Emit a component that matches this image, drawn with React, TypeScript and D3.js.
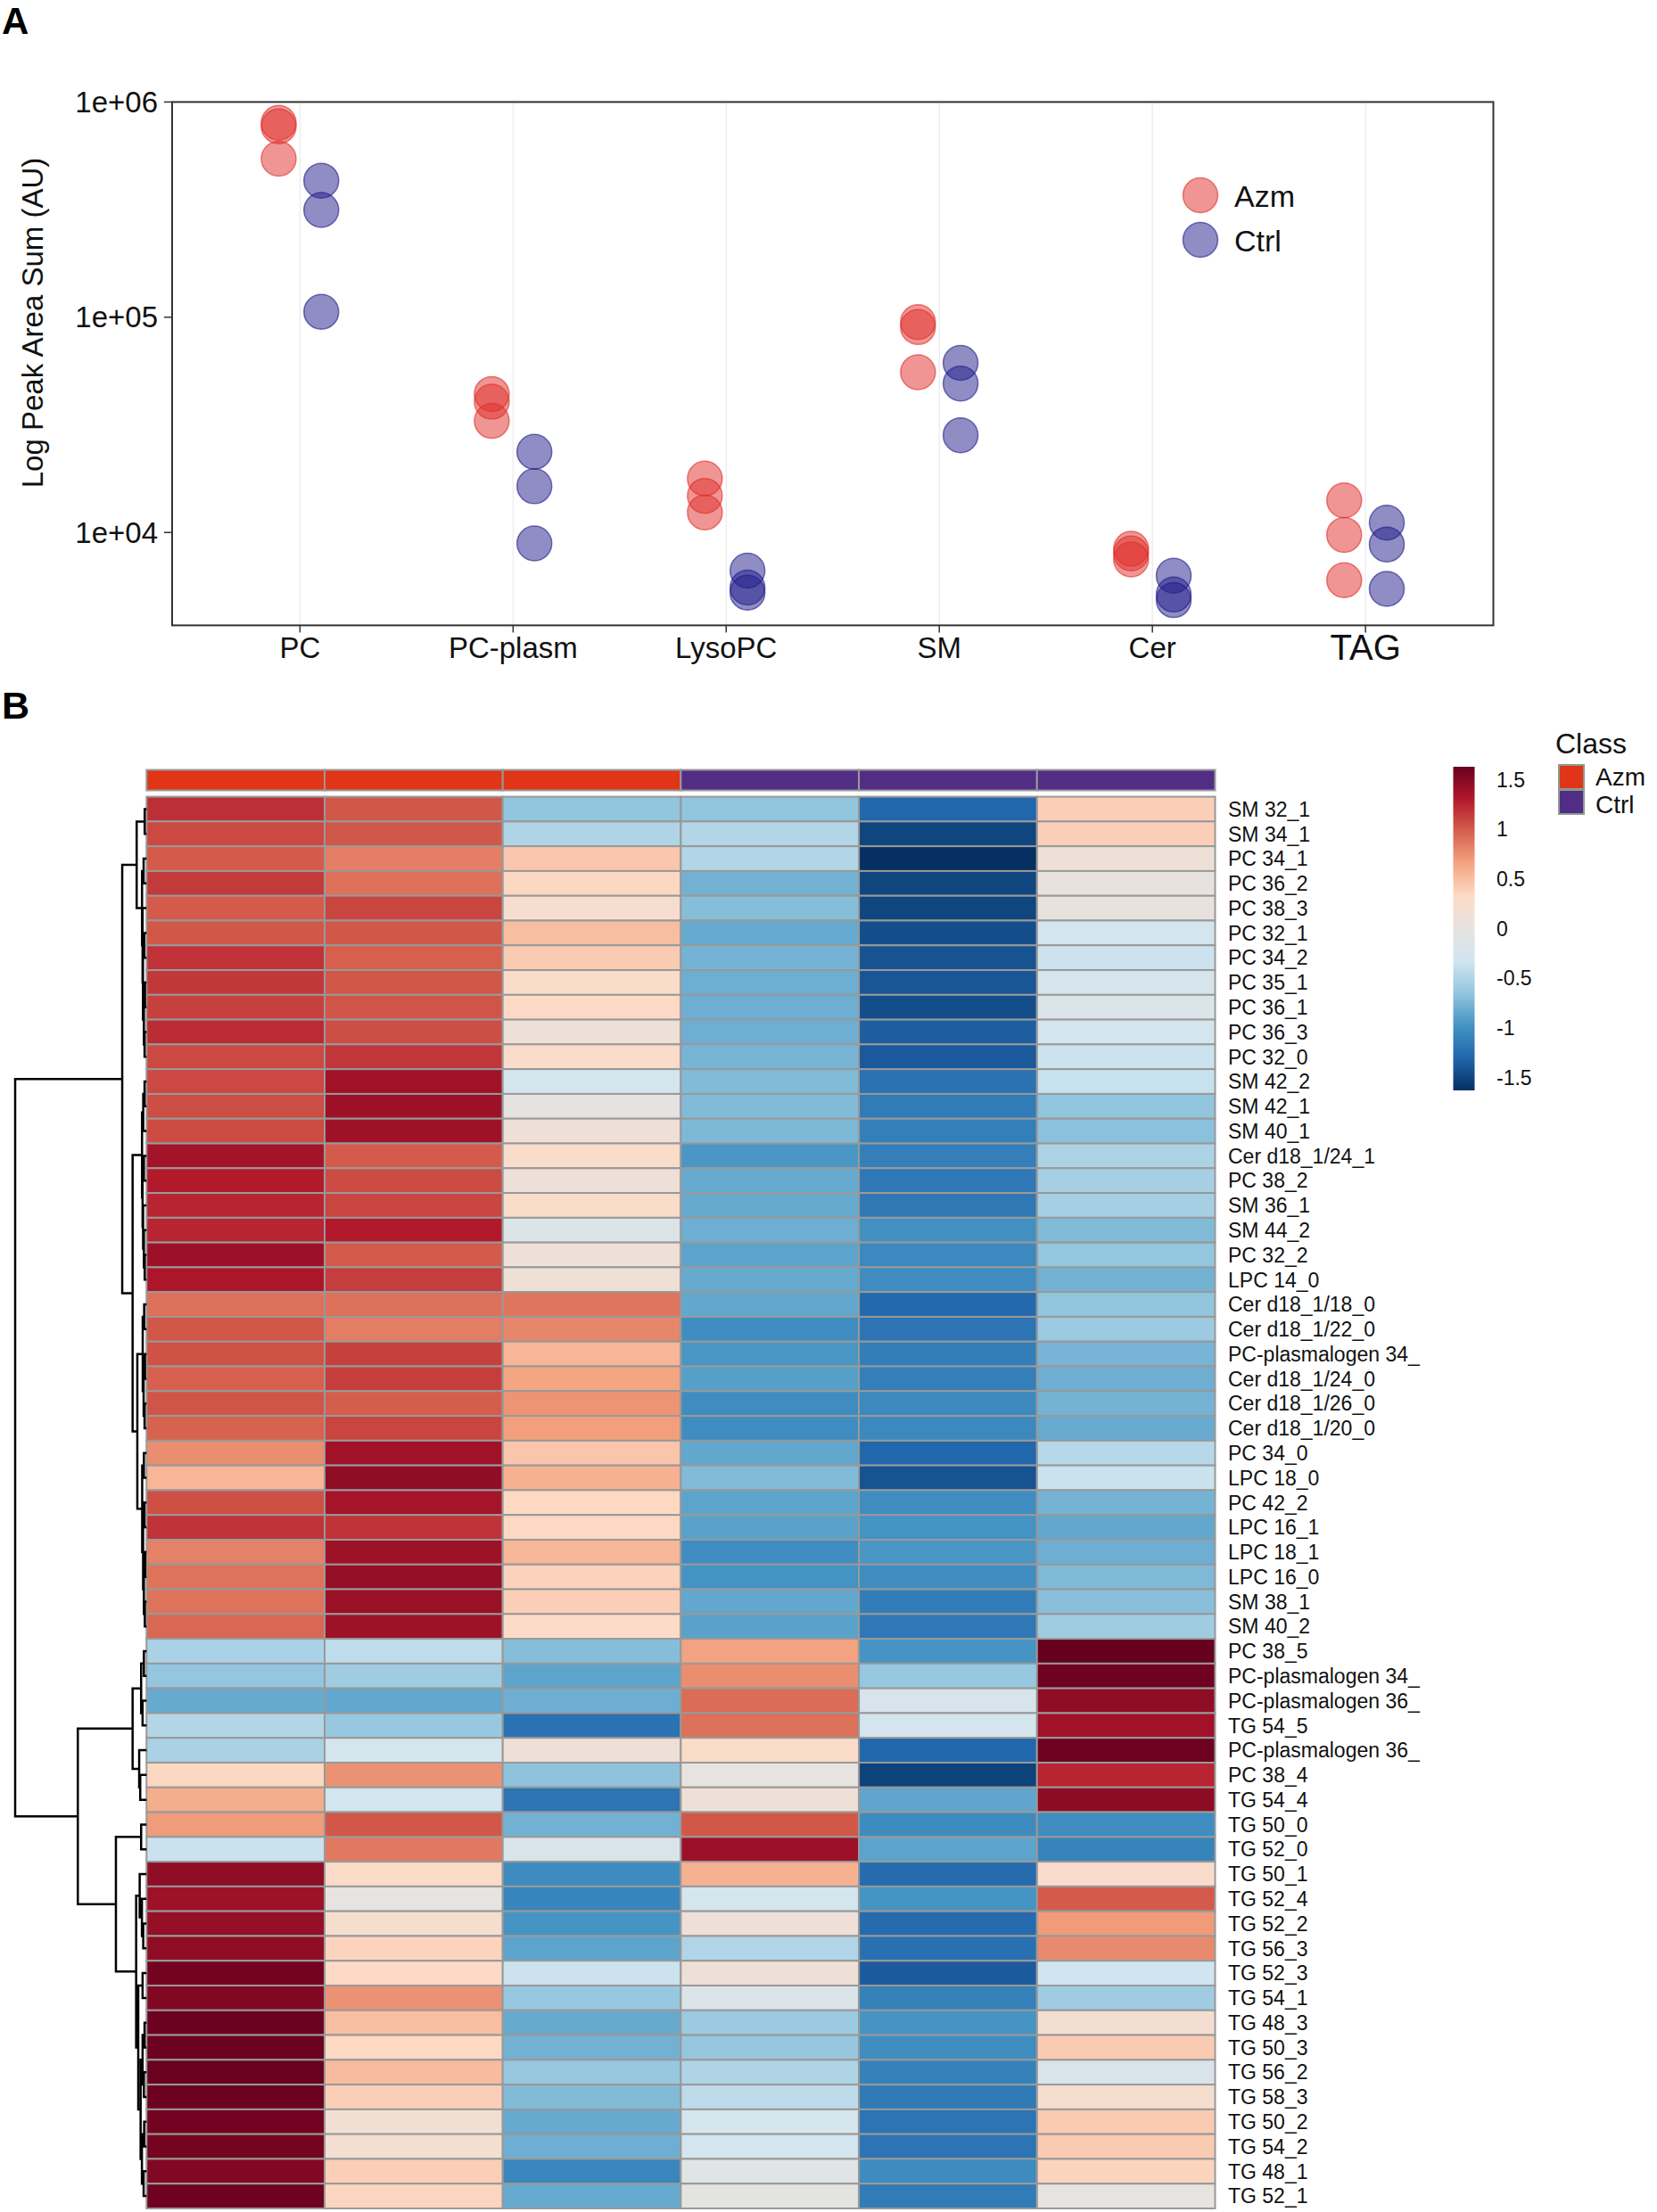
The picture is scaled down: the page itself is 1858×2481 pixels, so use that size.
import React from 'react';
import * as d3 from 'd3';

const FONT = "'Liberation Sans', Arial, Helvetica, sans-serif";

// ---------- panel A : summed peak areas per lipid class ----------
const lipidClasses = ['PC', 'PC-plasm', 'LysoPC', 'SM', 'Cer', 'TAG'];
const groups = ['Azm', 'Ctrl'];
const groupColors = ['#DF2D29', '#1F1B89'];
const azmPeakSums = [
  [800000, 770000, 545000],
  [44000, 40500, 33000],
  [17800, 14800, 12400],
  [95000, 90000, 55500],
  [8400, 8000, 7500],
  [14100, 9750, 6000],
];
const ctrlPeakSums = [
  [431000, 315000, 106000],
  [23700, 16400, 8900],
  [6650, 5550, 5250],
  [61400, 49200, 28300],
  [6300, 5150, 4850],
  [11100, 8800, 5470],
];
const yTickValues = [1e4, 1e5, 1e6];
const yTickLabels = ['1e+04', '1e+05', '1e+06'];

// ---------- panel B : heatmap of z-scores ----------
const sampleClass = ['Azm', 'Azm', 'Azm', 'Ctrl', 'Ctrl', 'Ctrl'];
const classColors = { Azm: '#E03516', Ctrl: '#522D86' };
const lipidNames = [
  'SM 32_1', 'SM 34_1', 'PC 34_1', 'PC 36_2', 'PC 38_3', 'PC 32_1', 'PC 34_2', 'PC 35_1',
  'PC 36_1', 'PC 36_3', 'PC 32_0', 'SM 42_2', 'SM 42_1', 'SM 40_1', 'Cer d18_1/24_1',
  'PC 38_2', 'SM 36_1', 'SM 44_2', 'PC 32_2', 'LPC 14_0', 'Cer d18_1/18_0', 'Cer d18_1/22_0',
  'PC-plasmalogen 34_', 'Cer d18_1/24_0', 'Cer d18_1/26_0', 'Cer d18_1/20_0', 'PC 34_0',
  'LPC 18_0', 'PC 42_2', 'LPC 16_1', 'LPC 18_1', 'LPC 16_0', 'SM 38_1', 'SM 40_2',
  'PC 38_5', 'PC-plasmalogen 34_', 'PC-plasmalogen 36_', 'TG 54_5', 'PC-plasmalogen 36_',
  'PC 38_4', 'TG 54_4', 'TG 50_0', 'TG 52_0', 'TG 50_1', 'TG 52_4', 'TG 52_2', 'TG 56_3',
  'TG 52_3', 'TG 54_1', 'TG 48_3', 'TG 50_3', 'TG 56_2', 'TG 58_3', 'TG 50_2', 'TG 54_2',
  'TG 48_1', 'TG 52_1',
];
const zScores = [
  [1.2, 1.02, -0.65, -0.65, -1.3, 0.4],
  [1.08, 1.02, -0.5, -0.48, -1.5, 0.4],
  [1.0, 0.83, 0.45, -0.48, -1.63, 0.12],
  [1.15, 0.9, 0.35, -0.78, -1.5, 0.03],
  [1.0, 1.1, 0.22, -0.7, -1.5, 0.03],
  [1.02, 1.02, 0.5, -0.83, -1.45, -0.3],
  [1.18, 0.98, 0.42, -0.77, -1.42, -0.35],
  [1.16, 1.02, 0.28, -0.8, -1.4, -0.25],
  [1.12, 1.03, 0.33, -0.8, -1.45, -0.18],
  [1.22, 1.06, 0.12, -0.8, -1.35, -0.3],
  [1.08, 1.17, 0.28, -0.76, -1.38, -0.35],
  [1.08, 1.38, -0.27, -0.72, -1.22, -0.37],
  [1.06, 1.4, -0.03, -0.72, -1.15, -0.65],
  [1.07, 1.39, 0.12, -0.74, -1.12, -0.68],
  [1.37, 1.0, 0.28, -0.95, -1.12, -0.52],
  [1.3, 1.07, 0.12, -0.83, -1.17, -0.55],
  [1.25, 1.1, 0.28, -0.83, -1.17, -0.55],
  [1.25, 1.3, -0.15, -0.8, -1.0, -0.72],
  [1.4, 1.0, 0.12, -0.87, -1.05, -0.64],
  [1.33, 1.13, 0.12, -0.83, -1.02, -0.78],
  [0.9, 0.9, 0.88, -0.85, -1.28, -0.65],
  [1.02, 0.84, 0.8, -1.02, -1.2, -0.6],
  [1.04, 1.12, 0.55, -0.96, -1.13, -0.76],
  [0.98, 1.13, 0.65, -0.9, -1.12, -0.8],
  [1.03, 0.99, 0.73, -1.02, -1.05, -0.77],
  [0.97, 1.1, 0.68, -1.02, -1.05, -0.82],
  [0.76, 1.38, 0.46, -0.85, -1.3, -0.46],
  [0.55, 1.45, 0.58, -0.72, -1.42, -0.36],
  [1.05, 1.36, 0.34, -0.87, -1.02, -0.77],
  [1.18, 1.18, 0.34, -0.88, -0.98, -0.85],
  [0.82, 1.39, 0.55, -1.02, -0.95, -0.8],
  [0.89, 1.43, 0.38, -0.98, -1.02, -0.73],
  [0.89, 1.41, 0.4, -0.85, -1.14, -0.69],
  [0.94, 1.39, 0.31, -0.88, -1.17, -0.58],
  [-0.53, -0.42, -0.7, 0.66, -0.97, 1.63],
  [-0.64, -0.58, -0.87, 0.76, -0.62, 1.6],
  [-0.83, -0.85, -0.8, 0.92, -0.22, 1.45],
  [-0.48, -0.62, -1.22, 0.9, -0.28, 1.38],
  [-0.53, -0.26, 0.12, 0.3, -1.3, 1.6],
  [0.35, 0.74, -0.67, 0.02, -1.52, 1.25],
  [0.6, -0.3, -1.2, 0.12, -0.86, 1.47],
  [0.7, 1.02, -0.78, 1.02, -1.03, -1.02],
  [-0.36, 0.86, -0.2, 1.4, -0.87, -1.09],
  [1.45, 0.3, -1.03, 0.58, -1.27, 0.27],
  [1.39, 0.0, -1.08, -0.28, -0.97, 1.0],
  [1.43, 0.22, -0.97, 0.12, -1.27, 0.7],
  [1.46, 0.37, -0.87, -0.49, -1.23, 0.78],
  [1.58, 0.33, -0.35, 0.12, -1.37, -0.33],
  [1.52, 0.74, -0.62, -0.18, -1.11, -0.58],
  [1.61, 0.5, -0.83, -0.6, -0.97, 0.2],
  [1.61, 0.34, -0.78, -0.63, -1.02, 0.42],
  [1.62, 0.52, -0.62, -0.5, -1.11, -0.2],
  [1.61, 0.4, -0.72, -0.43, -1.16, 0.22],
  [1.58, 0.16, -0.83, -0.27, -1.2, 0.43],
  [1.57, 0.18, -0.8, -0.3, -1.2, 0.43],
  [1.52, 0.4, -1.07, -0.1, -1.03, 0.37],
  [1.6, 0.36, -0.83, -0.05, -1.15, 0.0],
];
const legendTicks = [1.5, 1, 0.5, 0, -0.5, -1, -1.5];
const zLimit = 1.63;
// reversed RdBu ramp (red high -> blue low), greyish middle as in the figure
const heatPalette = ['#67001f', '#b2182b', '#d6604d', '#f4a582', '#fddbc7', '#e6e3e0',
  '#d1e5f0', '#92c5de', '#4393c3', '#2166ac', '#053061'];

// row dendrogram: [height, left, right], leaves are row indices
type TreeNode = number | [number, TreeNode, TreeNode];
const rowTree: TreeNode = [10,
  [1.85,
    [0.75, [0.14, 0, 1],
      [0.34, [0.22, 2, 3], [0.3, 4, [0.27, [0.18, 5, 6], [0.2, [0.12, 7, 8], [0.15, 9, 10]]]]]],
    [1.06,
      [0.34, [0.25, [0.15, 11, 12], 13], [0.3, [0.2, 14, 15], [0.26, 16, [0.2, 17, [0.14, 18, 19]]]]],
      [0.7,
        [0.29, [0.18, 20, 21], [0.22, [0.12, 22, 23], [0.15, 24, 25]]],
        [0.33, [0.2, 26, 27], [0.26, [0.16, 28, 29], [0.2, [0.1, 30, 31], [0.13, 32, 33]]]]]]],
  [5.23,
    [1.06, [0.41, [0.2, 34, 35], [0.3, 36, 37]], [0.56, 38, [0.48, 39, 40]]],
    [2.33, [0.41, 41, 42],
      [0.79, [0.52, 43, [0.35, 44, [0.25, 45, 46]]],
        [0.63, [0.3, 47, 48],
          [0.45, [0.3, [0.15, 49, 50], [0.2, 51, 52]], [0.35, [0.18, 53, 54], [0.22, 55, 56]]]]]]]];

function PanelA() {
  const left = 193, right = 1674.5, top = 114.4, bottom = 701.4;
  const x = d3.scalePoint<string>().domain(lipidClasses).range([left, right]).padding(0.6);
  const y = d3.scaleLog().domain([3703, 1e6]).range([bottom, top]);
  const dodge = x.step() * 0.1;
  const r = 19.5;
  const series = [azmPeakSums, ctrlPeakSums];

  return (
    <g fontFamily={FONT}>
      <text x={2} y={38} fontSize={42} fontWeight="bold">A</text>
      {lipidClasses.map(c => (
        <line key={c} x1={x(c)} x2={x(c)} y1={top} y2={bottom} stroke="#EBEBEB" strokeWidth={1.2} />
      ))}
      <rect x={left} y={top} width={right - left} height={bottom - top} fill="none" stroke="#333" strokeWidth={2} />
      {yTickValues.map((v, i) => (
        <g key={v}>
          <line x1={left - 9} x2={left} y1={y(v)} y2={y(v)} stroke="#333" strokeWidth={1.5} />
          <text x={left - 16} y={y(v)} dy="0.35em" textAnchor="end" fontSize={33} fill="#111">{yTickLabels[i]}</text>
        </g>
      ))}
      {lipidClasses.map(c => (
        <g key={c}>
          <line x1={x(c)} x2={x(c)} y1={bottom} y2={bottom + 8} stroke="#333" strokeWidth={1.5} />
          <text x={x(c)} y={c === 'TAG' ? 740 : 738} textAnchor="middle" fontSize={c === 'TAG' ? 40 : 33} fill="#111">{c}</text>
        </g>
      ))}
      <text transform={`translate(48,362) rotate(-90)`} textAnchor="middle" fontSize={33} fill="#111">
        Log Peak Area Sum (AU)
      </text>
      {series.map((s, gi) =>
        s.map((vals, ci) =>
          vals.map((v, k) => (
            <circle key={`${gi}-${ci}-${k}`} cx={(x(lipidClasses[ci]) as number) + (gi === 0 ? -dodge : dodge)}
              cy={y(v)} r={r} fill={groupColors[gi]} fillOpacity={0.5}
              stroke={groupColors[gi]} strokeOpacity={0.6} strokeWidth={1.5} />
          ))
        )
      )}
      {groups.map((g, i) => (
        <g key={g}>
          <circle cx={1346} cy={219 + i * 50} r={r} fill={groupColors[i]} fillOpacity={0.5}
            stroke={groupColors[i]} strokeOpacity={0.6} strokeWidth={1.5} />
          <text x={1384} y={232 + i * 50} fontSize={34} fill="#111">{g}</text>
        </g>
      ))}
    </g>
  );
}

function PanelB() {
  const heatLeft = 164.3, heatRight = 1362.5, heatTop = 893.6, heatBottom = 2477;
  const cols = d3.range(sampleClass.length);
  const rows = d3.range(lipidNames.length);
  const xb = d3.scaleBand<number>().domain(cols).range([heatLeft, heatRight]);
  const yb = d3.scaleBand<number>().domain(rows).range([heatTop, heatBottom]);
  const color = d3.scaleSequential(d3.piecewise(d3.interpolateRgb, heatPalette)).domain([zLimit, -zLimit]);
  const hx = d3.scaleLinear().domain([0, 10]).range([heatLeft, 17]);

  const segs: string[] = [];
  const walk = (node: TreeNode): { y: number; h: number } => {
    if (typeof node === 'number') return { y: (yb(node) as number) + yb.bandwidth() / 2, h: 0 };
    const [h, l, rr] = node;
    const a = walk(l);
    const b = walk(rr);
    const xx = hx(h);
    segs.push(`M${hx(a.h)},${a.y}H${xx}V${b.y}H${hx(b.h)}`);
    return { y: (a.y + b.y) / 2, h };
  };
  walk(rowTree);

  const legTop = 860, legBottom = 1223;
  const ly = d3.scaleLinear().domain([zLimit, -zLimit]).range([legTop, legBottom]);
  const stops = d3.range(0, 1.0001, 0.05);

  return (
    <g fontFamily={FONT}>
      <defs>
        <linearGradient id="zgrad" x1="0" y1="0" x2="0" y2="1">
          {stops.map(t => (
            <stop key={t} offset={t} stopColor={color(zLimit - t * 2 * zLimit)} />
          ))}
        </linearGradient>
      </defs>
      <text x={2} y={806} fontSize={43} fontWeight="bold">B</text>
      {cols.map(c => (
        <rect key={c} x={xb(c)} y={863.5} width={xb.bandwidth()} height={23}
          fill={classColors[sampleClass[c]]} stroke="#999" strokeWidth={2} />
      ))}
      {rows.map(r => cols.map(c => (
        <rect key={`${r}-${c}`} x={xb(c)} y={yb(r)} width={xb.bandwidth()} height={yb.bandwidth()}
          fill={color(zScores[r][c])} stroke="#999" strokeWidth={2} />
      )))}
      {rows.map(r => (
        <text key={r} x={1377} y={(yb(r) as number) + yb.bandwidth() / 2} dy="0.36em" fontSize={23} fill="#111">
          {lipidNames[r]}
        </text>
      ))}
      <path d={segs.join('')} fill="none" stroke="#000" strokeWidth={2.5} />
      <rect x={1629.5} y={legTop} width={24} height={legBottom - legTop} fill="url(#zgrad)" />
      {legendTicks.map(t => (
        <text key={t} x={1678} y={ly(t)} dy="0.36em" fontSize={23} fill="#111">{t}</text>
      ))}
      <text x={1744} y={845} fontSize={32} fill="#111">Class</text>
      {groups.map((g, i) => (
        <g key={g}>
          <rect x={1748} y={858 + i * 28} width={28} height={27} fill={classColors[g]} stroke="#8f9a8f" strokeWidth={2} />
          <text x={1789} y={881 + i * 31} fontSize={28} fill="#111">{g}</text>
        </g>
      ))}
    </g>
  );
}

export default function App() {
  return (
    <svg width={1858} height={2481} style={{ position: 'absolute', left: 0, top: 0, background: '#fff' }}>
      <rect width={1858} height={2481} fill="#fff" />
      <PanelA />
      <PanelB />
    </svg>
  );
}
